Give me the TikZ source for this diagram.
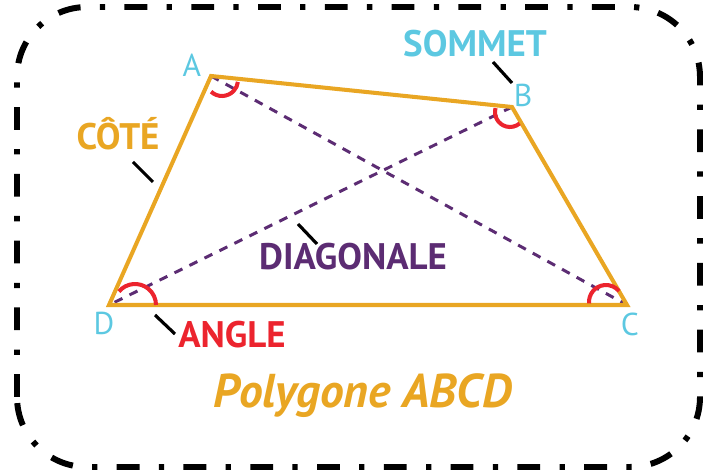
\documentclass[tikz,border=0pt]{standalone}
\usepackage{fontspec}
\setmainfont{PT Sans}
\usetikzlibrary{calc}
\definecolor{sideorange}{RGB}{233,166,35}
\definecolor{vertexblue}{RGB}{92,200,225}
\definecolor{diagpurple}{RGB}{92,44,115}
\definecolor{anglered}{RGB}{236,36,46}

\begin{document}
\begin{tikzpicture}[
  every node/.style={inner sep=0pt},
  side/.style={draw=sideorange, line width=2.3pt},
  diag/.style={draw=diagpurple, line width=1.7pt, dash pattern=on 5pt off 4.5pt},
  angmark/.style={draw=anglered, line width=2.3pt},
  leader/.style={draw=black, line width=1.8pt},
  vlabel/.style={text=vertexblue, anchor=base, font=\fontsize{18}{18}\selectfont},
  tag/.style={anchor=base, font=\fontsize{21}{21}\selectfont\bfseries}
]
  \useasboundingbox (0,0) rectangle (14.26,9.5);

  % Frame
  \draw[line width=3.4pt, rounded corners=1.4cm,
        dash pattern=on 13pt off 11pt on 3pt off 11pt] (0.34,0.16) rectangle (14.0,9.36);

  % Vertices
  \coordinate (A) at (4.22,7.98);
  \coordinate (B) at (10.24,7.36);
  \coordinate (C) at (12.54,3.40);
  \coordinate (D) at (2.18,3.40);

  % Diagonals
  \draw[diag] (A) -- (C);
  \draw[diag] (B) -- (D);

  % Sides
  \draw[side] (A) -- (B) -- (C) -- (D) -- cycle;

  % Angles
  \draw[angmark] ([shift={(0.22,-0.08)}]A) ++(227:0.32) arc[start angle=227, end angle=353, radius=0.32];
  \draw[angmark] ([shift={(-0.04,-0.1)}]B) ++(165:0.3) arc[start angle=165, end angle=310, radius=0.3];
  \draw[angmark] ([shift={(-0.42,0.06)}]C) ++(185:0.34) arc[start angle=185, end angle=40, radius=0.34];
  \draw[angmark] ([shift={(0.52,0)}]D) ++(140:0.42) arc[start angle=140, end angle=0, radius=0.42];

  % Vertex names
  \node[vlabel] (nameA) at (3.84,7.96) {A};
  \node[vlabel] (nameB) at (10.46,7.36) {B};
  \node[vlabel] (nameC) at (12.6,2.78) {C};
  \node[vlabel] (nameD) at (2.08,2.80) {D};

  % Tags
  \node[tag, text=vertexblue] (sommet) at (9.5,8.36) {SOMMET};
  \node[tag, text=sideorange] (cote) at (2.36,6.50) {CÔTÉ};
  \node[tag, text=diagpurple] (diagonale) at (7.06,4.10) {DIAGONALE};
  \node[tag, text=anglered] (angle) at (4.64,2.54) {ANGLE};
  \node[anchor=base, text=sideorange, font=\fontsize{27}{27}\selectfont\bfseries\itshape]
       (title) at (7.25,1.34) {Polygone ABCD};

  % Leader ticks
  \coordinate (sommet-a) at (9.86,8.26);
  \coordinate (sommet-b) at (10.24,7.84);
  \coordinate (cote-a) at (2.66,6.26);
  \coordinate (cote-b) at (3.06,5.86);
  \coordinate (diagonale-a) at (5.96,5.02);
  \coordinate (diagonale-b) at (6.34,4.62);
  \coordinate (angle-a) at (3.10,3.20);
  \coordinate (angle-b) at (3.50,2.82);
  \draw[leader] (sommet-a) -- (sommet-b);
  \draw[leader] (cote-a) -- (cote-b);
  \draw[leader] (diagonale-a) -- (diagonale-b);
  \draw[leader] (angle-a) -- (angle-b);
\end{tikzpicture}
\end{document}
